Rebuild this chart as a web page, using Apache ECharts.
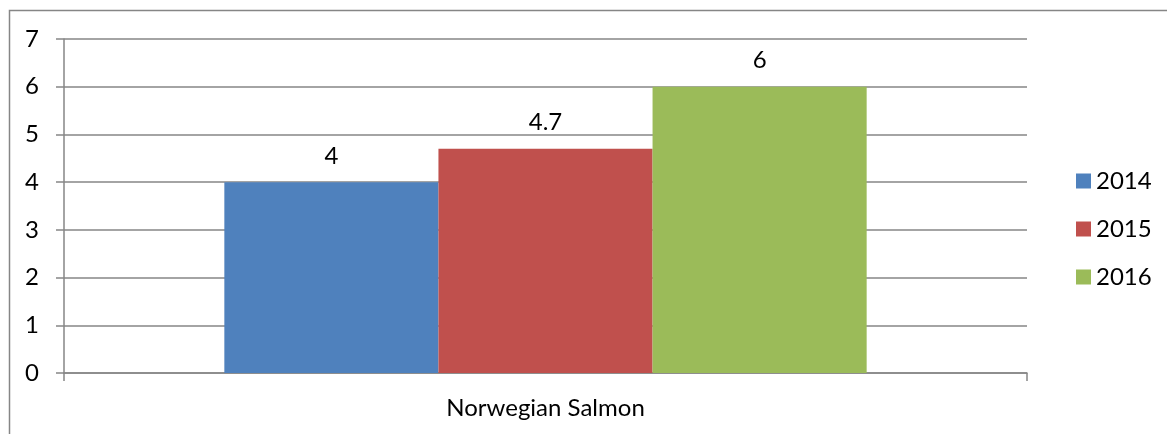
<!DOCTYPE html>
<html><head><meta charset="utf-8">
<script src="https://cdn.jsdelivr.net/npm/echarts@6/dist/echarts.min.js"></script>
<style>html,body{margin:0;padding:0;background:#fff}#c{width:1167px;height:434px}</style>
</head><body><div id="c"></div>
<script>
const categories = ['Norwegian Salmon'];
const seriesNames = ['2014', '2015', '2016'];
const values2014 = [4];
const values2015 = [4.7];
const values2016 = [6];
const yTicks = [0, 1, 2, 3, 4, 5, 6, 7];
const colors = ['#4F81BD', '#C0504D', '#9BBB59'];
const seriesValues = [values2014, values2015, values2016];
const font = 'Lato, Carlito, Calibri, sans-serif';

const chart = echarts.init(document.getElementById('c'), null, {renderer: 'canvas'});
chart.setOption({
  animation: false,
  textStyle: {fontFamily: font},
  graphic: [{type: 'rect', shape: {x: 9.5, y: 10.5, width: 1200, height: 500}, style: {fill: 'none', stroke: '#868686', lineWidth: 1.5}, silent: true}],
  grid: {left: 64, right: 140, top: 39, bottom: 61},
  legend: {
    orient: 'vertical', left: 1071, top: 164,
    itemWidth: 15, itemHeight: 15, itemGap: 24,
    icon: 'rect',
    data: seriesNames,
    textStyle: {fontFamily: font, fontSize: 24, color: '#000', padding: [0, 0, 0, 0]},
    formatter: n => n
  },
  xAxis: {
    type: 'category', data: categories,
    axisLine: {lineStyle: {color: '#868686', width: 1.5}},
    axisTick: {show: true, length: 8, lineStyle: {color: '#868686', width: 1.5}},
    axisLabel: {fontFamily: font, fontSize: 24, color: '#000', margin: 23}
  },
  yAxis: {
    type: 'value', min: yTicks[0], max: yTicks[yTicks.length - 1], interval: 1,
    axisLine: {show: true, lineStyle: {color: '#868686', width: 1.5}},
    axisTick: {show: true, length: 8, lineStyle: {color: '#868686', width: 1.5}},
    splitLine: {lineStyle: {color: '#868686', width: 1.5}},
    axisLabel: {fontFamily: font, fontSize: 24, color: '#000', margin: 25}
  },
  series: seriesNames.map((n, i) => ({
    name: n, type: 'bar', data: seriesValues[i],
    barGap: '0%', barCategoryGap: '33.3%',
    itemStyle: {color: colors[i]},
    label: {show: true, position: 'top', distance: 14, fontFamily: font, fontSize: 24, color: '#000'}
  }))
});
</script></body></html>
